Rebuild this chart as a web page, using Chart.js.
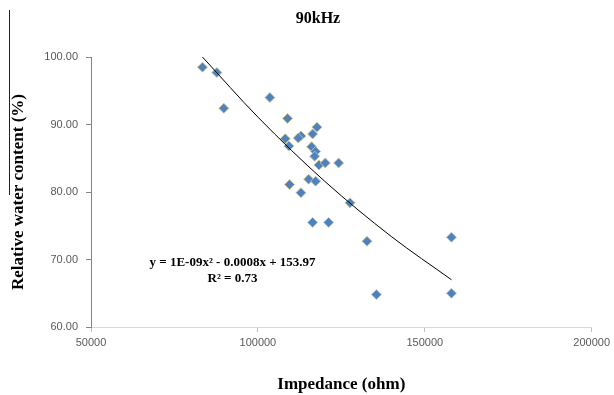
<!DOCTYPE html>
<html>
<head>
<meta charset="utf-8">
<script src="https://cdn.jsdelivr.net/npm/chart.js@4"></script>
<style>
  html, body { margin: 0; padding: 0; background: #fff; }
  #wrap { width: 614px; height: 395px; }
</style>
</head>
<body>
<div id="wrap"><canvas id="chart"></canvas></div>
<script>
// impedance (ohm) and relative water content (%)
const impedance = [83400, 87700, 89800, 103600, 108900, 117700, 108200, 109300,
  112900, 112100, 116400, 116100, 117300, 117000, 118300, 120200, 124200,
  115200, 117300, 109500, 112900, 127600, 116400, 121200, 132700, 158000,
  135500, 158000];
const waterContent = [98.5, 97.7, 92.4, 94.0, 90.9, 89.6, 87.9, 86.8,
  88.3, 88.0, 88.6, 86.7, 86.0, 85.3, 84.0, 84.3, 84.3,
  81.9, 81.6, 81.1, 79.9, 78.4, 75.5, 75.5, 72.7, 73.3,
  64.8, 65.0];

// trendline as drawn in the picture
const trendX = [83400, 100000, 120000, 140000, 158000];
const trendY = [100.0, 91.1, 81.6, 73.4, 67.0];

const xTicks = [50000, 100000, 150000, 200000];
const yTicks = [60, 70, 80, 90, 100];

const chartTitle = "90kHz";
const equation = "y = 1E-09x\u00B2 - 0.0008x + 153.97";
const rSquared = "R\u00B2 = 0.73";

const serif = "'Liberation Serif', 'Times New Roman', serif";
const sans = "'Liberation Sans', Arial, sans-serif";

const scatterData = impedance.map((x, i) => ({ x: x, y: waterContent[i] }));
const trendData = trendX.map((x, i) => ({ x: x, y: trendY[i] }));

const extras = {
  id: "extras",
  afterDatasetsDraw(chart) {
    const ctx = chart.ctx;
    const xs = chart.scales.x;
    const ys = chart.scales.y;
    ctx.save();
    ctx.fillStyle = "#000";
    ctx.textAlign = "center";
    ctx.textBaseline = "middle";

    ctx.font = "bold 16px " + serif;
    ctx.fillText(chartTitle, 318, 19);

    ctx.font = "bold 13px " + serif;
    const cx = xs.getPixelForValue(92400);
    ctx.fillText(equation, cx, ys.getPixelForValue(69.5));
    ctx.fillText(rSquared, cx, ys.getPixelForValue(67.2));

    // thin line at the left edge of the picture
    ctx.strokeStyle = "#222";
    ctx.lineWidth = 1;
    ctx.beginPath();
    ctx.moveTo(9.5, 10);
    ctx.lineTo(9.5, 195);
    ctx.stroke();
    ctx.restore();
  },
};

new Chart(document.getElementById("chart"), {
  type: "scatter",
  data: {
    datasets: [
      {
        label: "trend",
        type: "line",
        data: trendData,
        borderColor: "#000",
        borderWidth: 1,
        pointRadius: 0,
        fill: false,
        tension: 0.4,
        cubicInterpolationMode: "monotone",
      },
      {
        label: "90kHz",
        data: scatterData,
        pointStyle: "rectRot",
        pointRadius: 5,
        pointHoverRadius: 5,
        backgroundColor: "#4F81BD",
        borderColor: "rgba(205,200,150,0.9)",
        borderWidth: 1,
      },
    ],
  },
  options: {
    responsive: true,
    maintainAspectRatio: false,
    animation: false,
    layout: { padding: { left: 0, right: 3, top: 57, bottom: 0 } },
    scales: {
      x: {
        type: "linear",
        min: 50000,
        max: 200000,
        afterBuildTicks: (s) => { s.ticks = xTicks.map((v) => ({ value: v })); },
        afterFit: (s) => { s.height = 68; },
        border: { display: true, color: "#d9d9d9", width: 1 },
        grid: { display: true, drawOnChartArea: false, drawTicks: true, tickLength: 5, color: "#bfbfbf" },
        ticks: {
          color: "#595959",
          font: { family: sans, size: 11 },
          padding: 4,
          maxRotation: 0,
          callback: (v) => String(v),
        },
        title: {
          display: true,
          text: "Impedance (ohm)",
          color: "#000",
          font: { family: serif, size: 17, weight: "bold" },
          padding: { top: 0, bottom: 0 },
        },
      },
      y: {
        min: 60,
        max: 100,
        afterBuildTicks: (s) => { s.ticks = yTicks.map((v) => ({ value: v })); },
        afterFit: (s) => { s.width = 91; },
        border: { display: true, color: "#868686", width: 1 },
        grid: { display: true, drawOnChartArea: false, drawTicks: true, tickLength: 5, color: "#868686" },
        ticks: {
          color: "#595959",
          font: { family: sans, size: 11 },
          padding: 8,
          callback: (v) => v.toFixed(2),
        },
        title: {
          display: true,
          text: "Relative water content (%)",
          color: "#000",
          font: { family: serif, size: 17, weight: "bold" },
          padding: { top: 8, bottom: 0 },
        },
      },
    },
    plugins: {
      legend: { display: false },
      tooltip: { enabled: false },
      title: { display: false },
    },
  },
  plugins: [extras],
});
</script>
</body>
</html>
